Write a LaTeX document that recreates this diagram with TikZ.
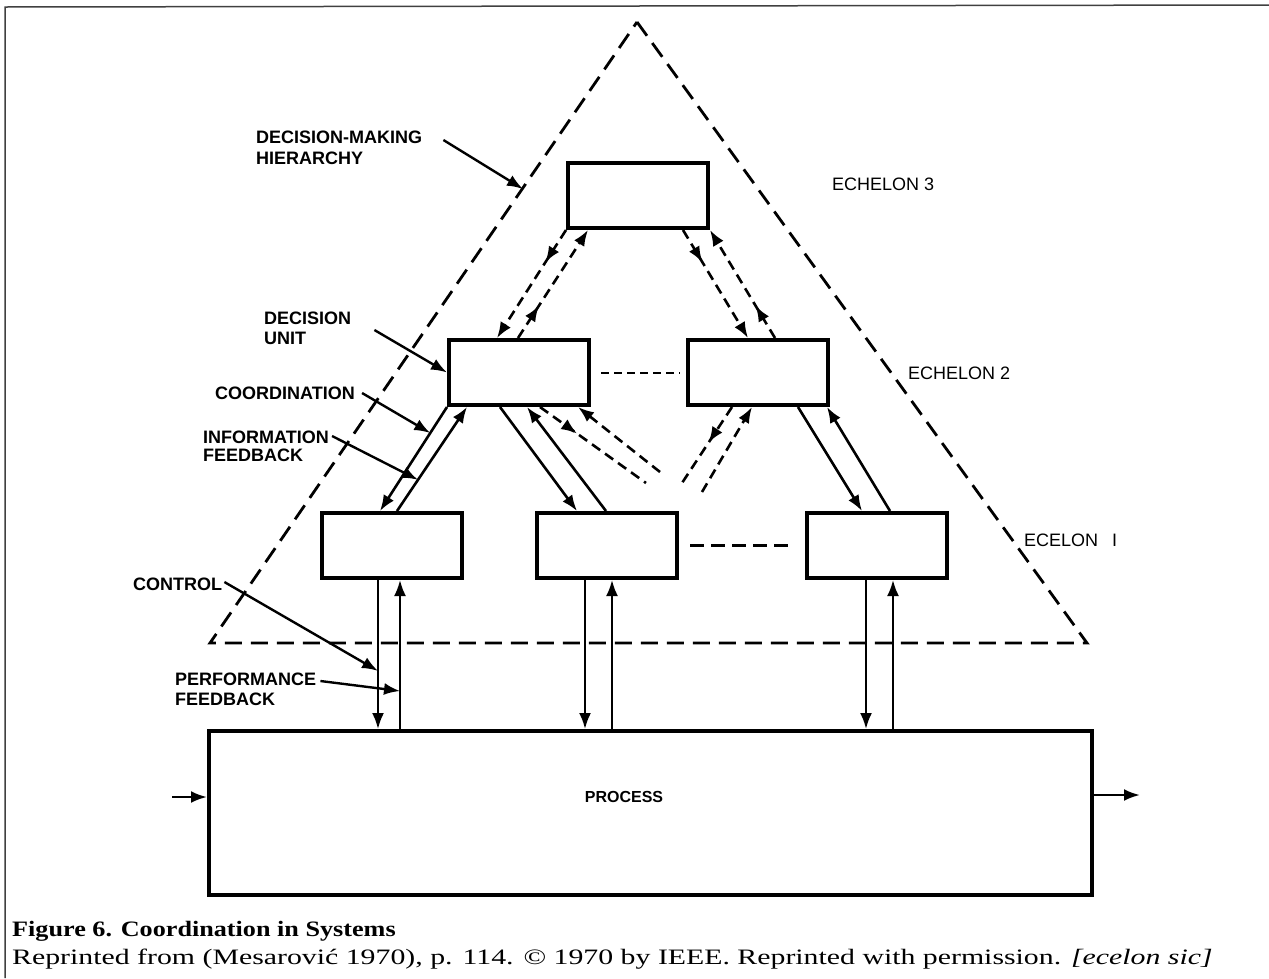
\documentclass[tikz,border=0pt]{standalone}
\usepackage{fontspec}
\setmainfont{Liberation Serif}
\setsansfont{Liberation Sans}
\usetikzlibrary{arrows.meta,decorations.markings,calc}
\begin{document}
\begin{tikzpicture}[x=1pt,y=-1pt,
  box/.style={draw,line width=4pt,rectangle,minimum width=140pt,minimum height=65pt,inner sep=0pt},
  lbl/.style={font=\sffamily\bfseries\fontsize{18}{20}\selectfont,inner sep=0pt,anchor=west,align=left},
  ech/.style={font=\sffamily\fontsize{18}{20}\selectfont,inner sep=0pt,anchor=west},
  arr/.style={-{Latex[length=16pt,width=12pt]}},
  flow/.style={line width=2.6pt},
  vflow/.style={line width=2.3pt},
  dflow/.style={line width=2.6pt,dash pattern=on 10pt off 6pt},
  midtip/.style={postaction={decorate},decoration={markings,mark=at position #1 with {\arrow{Latex[length=16pt,width=12pt]}}}},
  ptr/.style={line width=2.4pt,-{Latex[length=16pt,width=12pt]}},
]
\useasboundingbox (0,0) rectangle (1269,978);
% frame
\draw[line width=1.5pt,black!75] (5,978) -- (5,7) -- (1269,5);

% hierarchy triangle
\draw[line width=2.8pt,dash pattern=on 17pt off 9pt] (637,22) -- (1087,643) -- (210,643) -- cycle;

% decision units
\node[box] (e3) at (638,195.5) {};
\node[box] (e2l) at (519,372.5) {};
\node[box] (e2r) at (758,372.5) {};
\node[box] (e1l) at (392,545.5) {};
\node[box] (e1m) at (607,545.5) {};
\node[box] (e1r) at (877,545.5) {};
\node[box,minimum width=883pt,minimum height=164pt] (proc) at (650.5,813) {};
\node[font=\sffamily\bfseries\fontsize{16}{18}\selectfont,inner sep=0pt] (proclbl) at (624,797) {PROCESS};

% process input / output
\coordinate (pin) at (172,797);
\draw[flow,arr] (pin) -- (pin -| proc.west);
\coordinate (pout) at (1140,795);
\draw[flow,arr] (proc.east |- pout) -- (pout);

% echelon 3 <-> echelon 2 (dashed)
\draw[dflow,arr,midtip=0.3] (e3.south west) -- ([xshift=-22pt]e2l.north);
\draw[dflow,arr,midtip=0.3] ([xshift=-1pt]e2l.north) -- ([xshift=-50pt]e3.south);
\draw[dflow,arr,midtip=0.3] ([xshift=45pt]e3.south) -- ([xshift=-10pt]e2r.north);
\draw[dflow,arr,midtip=0.3] ([xshift=17pt]e2r.north) -- (e3.south east);

% echelon 2 <-> echelon 1 (solid)
\coordinate (i1) at (e2l.south west);
\coordinate (i2) at ([xshift=-12pt]e1l.north);
\coordinate (j1) at ([xshift=5pt]e1l.north);
\coordinate (j2) at ([xshift=-52pt]e2l.south);
\draw[flow,arr] (i1) -- (i2);
\draw[flow,arr] (j1) -- (j2);
\draw[flow,arr] ([xshift=-19pt]e2l.south) -- ([xshift=-30pt]e1m.north);
\draw[flow,arr] ([xshift=-1pt]e1m.north) -- ([xshift=8pt]e2l.south);
\draw[flow,arr] ([xshift=40pt]e2r.south) -- ([xshift=-15pt]e1r.north);
\draw[flow,arr] ([xshift=13pt]e1r.north) -- ([xshift=69pt]e2r.south);

% cross links (dashed, cut off)
\coordinate (m1) at (646,483);
\coordinate (n1) at (660,472);
\coordinate (c1) at (682,483);
\coordinate (d1) at (702,492);
\draw[dflow,midtip=0.35] ([xshift=21pt]e2l.south) -- (m1);
\draw[dflow,arr] (n1) -- ([xshift=59pt]e2l.south);
\draw[dflow,midtip=0.47] ([xshift=-26pt]e2r.south) -- (c1);
\draw[dflow,arr] (d1) -- ([xshift=-6pt]e2r.south);

% horizontal dashed links
\draw[line width=2pt,dash pattern=on 8pt off 5pt] ([xshift=10pt]e2l.east) -- ([xshift=-6pt]e2r.west);
\draw[line width=2.5pt,dash pattern=on 14pt off 7pt] ([xshift=11pt]e1m.east) -- ([xshift=-14pt]e1r.west);

% echelon 1 <-> process
\coordinate (v1d) at ([xshift=-14pt]e1l.south);
\coordinate (v1u) at ([xshift=8pt]e1l.south);
\coordinate (v2d) at ([xshift=-22pt]e1m.south);
\coordinate (v2u) at ([xshift=5pt]e1m.south);
\coordinate (v3d) at ([xshift=-11pt]e1r.south);
\coordinate (v3u) at ([xshift=16pt]e1r.south);
\coordinate (v1dend) at (v1d |- proc.north);
\coordinate (v1uend) at (v1u |- proc.north);
\draw[vflow,arr] (v1d) -- (v1dend);
\draw[vflow,arr] (v1uend) -- (v1u);
\draw[vflow,arr] (v2d) -- (v2d |- proc.north);
\draw[vflow,arr] (v2u |- proc.north) -- (v2u);
\draw[vflow,arr] (v3d) -- (v3d |- proc.north);
\draw[vflow,arr] (v3u |- proc.north) -- (v3u);

% labels
\node[lbl,font=\sffamily\bfseries\fontsize{18}{21}\selectfont] (dm) at (256,147.5) {DECISION-MAKING\\HIERARCHY};
\coordinate (dmt) at (523,189);
\draw[ptr] ($(dm.east)+(21,-7.5)$) -- (dmt);

\node[lbl] (du) at (264,328) {DECISION\\UNIT};
\draw[ptr] ($(du.east)+(23,2)$) -- (e2l.west);

\node[lbl] (co) at (215,393) {COORDINATION};
\draw[ptr] ($(co.east)+(7,0)$) -- ($(i1)!0.25!(i2)$);

\node[lbl,font=\sffamily\bfseries\fontsize{18}{18}\selectfont] (inf) at (203,446) {INFORMATION\\FEEDBACK};
\draw[ptr] ($(inf.east)+(3,-10)$) -- ($(j1)!0.3!(j2)$);

\node[lbl] (ctl) at (133,584) {CONTROL};
\draw[ptr] ($(ctl.east)+(2,-2)$) -- ($(v1d)!0.61!(v1dend)$);

\node[lbl] (pf) at (175,689) {PERFORMANCE\\FEEDBACK};
\draw[ptr] ($(pf.east)+(4,-8)$) -- ($(v1u)!0.745!(v1uend)$);

\node[ech] (ech3) at (832,184) {ECHELON 3};
\node[ech] (ech2) at (908,373) {ECHELON 2};
\node[ech] (ech1) at (1024,540) {ECELON\hspace{14pt}I};

% caption
\node[anchor=base west,inner sep=0pt,font=\bfseries\fontsize{22}{24}\selectfont] (cap1) at (12,936) {\scalebox{1.19}[1]{Figure 6. Coordination in Systems}};
\node[anchor=base west,inner sep=0pt,font=\fontsize{22}{24}\selectfont] (cap2) at (12,964) {\scalebox{1.355}[1]{Reprinted from (Mesarović 1970), p. 114. © 1970 by IEEE. Reprinted with permission. \textit{[ecelon sic]}}};
\end{tikzpicture}
\end{document}
